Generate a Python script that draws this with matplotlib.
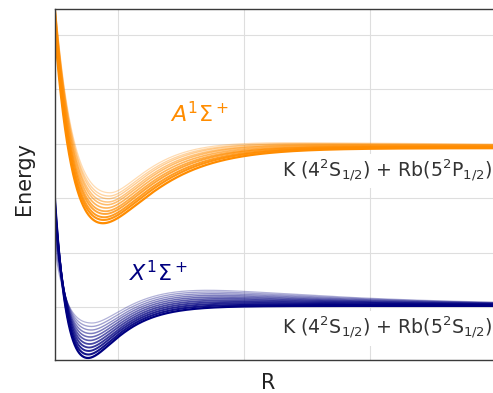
import numpy as np
import matplotlib
matplotlib.use("Agg")
import matplotlib.pyplot as plt

# model potential curves, deepest (index 0) to shallowest (index 10)
# X state (ground)
x_re = [0.762, 0.765, 0.768, 0.772, 0.775, 0.778, 0.781, 0.784, 0.788, 0.791, 0.794]
x_min = [0.063, 0.127, 0.192, 0.256, 0.320, 0.385, 0.449, 0.513, 0.577, 0.642, 0.706]
x_asym = [1.02] * 11
x_aleft = [3.85, 3.84, 3.84, 3.83, 3.83, 3.82, 3.82, 3.81, 3.81, 3.80, 3.80]
x_aright = [4.20, 4.08, 3.96, 3.84, 3.72, 3.60, 3.48, 3.36, 3.24, 3.12, 3.00]
x_hump = [0.0, 0.074, 0.148, 0.222, 0.296, 0.370, 0.444, 0.518, 0.592, 0.666, 0.740]

# A state (excited)
a_re = [0.881, 0.887, 0.892, 0.898, 0.903, 0.909, 0.915, 0.920, 0.926, 0.931, 0.937]
a_min = [2.54, 2.60, 2.65, 2.71, 2.76, 2.82, 2.88, 2.93, 2.99, 3.04, 3.10]
a_asym = [3.92, 3.93, 3.93, 3.94, 3.94, 3.95, 3.96, 3.96, 3.97, 3.97, 3.98]
a_aleft = [2.50] * 11
a_aright = [2.60, 2.69, 2.78, 2.87, 2.96, 3.05, 3.14, 3.23, 3.32, 3.41, 3.50]
a_hump = [0.0, 0.015, 0.030, 0.045, 0.060, 0.075, 0.090, 0.105, 0.120, 0.135, 0.150]

alphas = [1.0, 0.93, 0.86, 0.79, 0.72, 0.65, 0.58, 0.51, 0.44, 0.37, 0.30]
widths = [1.6, 1.5, 1.4, 1.35, 1.3, 1.2, 1.15, 1.1, 1.0, 1.0, 0.9]
hump_decay = 0.75


def potential(r, re, vmin, asym, aleft, aright, hump):
    depth = asym - vmin
    a = np.where(r < re, aleft, aright)
    morse = vmin + depth * (1 - np.exp(-a * (r - re))) ** 2
    d = np.clip(r - re, 0, None)
    bump = hump * (1 - np.exp(-aright * d)) ** 2 * np.exp(-hump_decay * d)
    return morse + bump


r = np.linspace(0.5, 4.1, 900)

fig = plt.figure(figsize=(4.93, 3.93), dpi=100)
ax = fig.add_axes([55 / 493, 33 / 393, 454 / 493, 351 / 393])

for i in reversed(range(11)):
    ax.plot(r, potential(r, x_re[i], x_min[i], x_asym[i], x_aleft[i], x_aright[i], x_hump[i]),
            color='navy', alpha=alphas[i], lw=widths[i])
    ax.plot(r, potential(r, a_re[i], a_min[i], a_asym[i], a_aleft[i], a_aright[i], a_hump[i]),
            color='darkorange', alpha=alphas[i], lw=widths[i])

ax.set_xlim(0.5, 4.103)
ax.set_ylim(0.026, 6.478)
ax.set_xticks([1, 2, 3, 4])
ax.set_yticks([1, 2, 3, 4, 5, 6])
ax.set_xticklabels([])
ax.set_yticklabels([])
ax.tick_params(length=0)
ax.grid(color='#dedede', lw=0.8)
ax.set_axisbelow(True)
for side in ['left', 'top', 'bottom']:
    ax.spines[side].set_color('#3a3a3a')
    ax.spines[side].set_linewidth(1.0)
ax.spines['right'].set_visible(False)

ax.text(1.65, 4.55, r'$A^1\Sigma^+$', color='darkorange', fontsize=16, ha='center', va='center')
ax.text(1.32, 1.63, r'$X^1\Sigma^+$', color='navy', fontsize=16, ha='center', va='center')
box = dict(facecolor='white', edgecolor='none', pad=3)
ax.text(3.97, 3.50, r'K (4$^2$S$_{1/2}$) + Rb(5$^2$P$_{1/2}$)', color='#333333',
        fontsize=13.6, ha='right', va='center', bbox=box)
ax.text(3.97, 0.61, r'K (4$^2$S$_{1/2}$) + Rb(5$^2$S$_{1/2}$)', color='#333333',
        fontsize=13.6, ha='right', va='center', bbox=box)

ax.set_xlabel('R', fontsize=15, color='#222222')
ax.set_ylabel('Energy', fontsize=15, color='#222222')
ax.xaxis.set_label_coords(0.469, -0.037)
ax.yaxis.set_label_coords(-0.046, 0.518)

fig.savefig('out.png', dpi=100)
